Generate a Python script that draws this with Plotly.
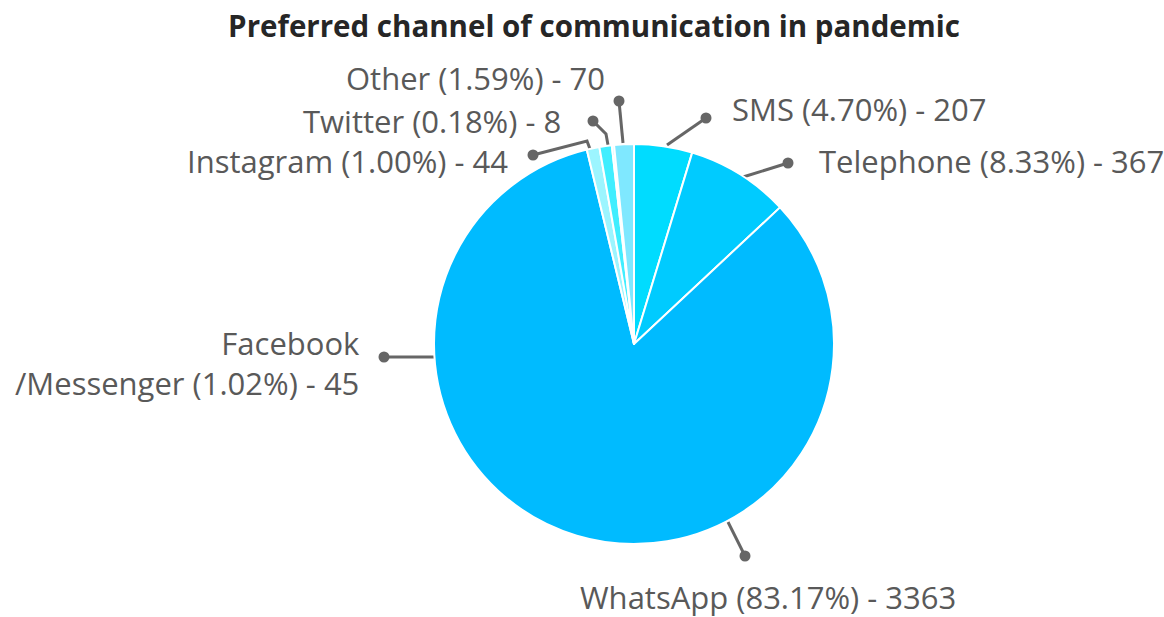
import plotly.graph_objects as go

# ---- data ----
channels = ["SMS", "Telephone", "WhatsApp", "Facebook<br>/Messenger", "Instagram", "Twitter", "Other"]
percent = [4.70, 8.33, 83.17, 1.02, 1.00, 0.18, 1.59]
counts = [207, 367, 3363, 45, 44, 8, 70]
colors = ["#00DCFF", "#00CBFF", "#00BBFF", "#9CF5FF", "#40EEFF", "#60E4FF", "#7FE8FF"]

# ---- layout (pixel positions of labels / leader lines) ----
W, H = 1164, 617
cx, cy, R = 634, 344, 200
leaders = [  # polyline points from pie edge to dot
    [(667, 145), (706, 118)],
    [(743, 177), (788, 163)],
    [(728, 522), (745, 556)],
    [(434, 357), (384, 357)],
    [(590, 149), (587, 141), (533, 155)],
    [(608, 145), (606, 134), (593, 121)],
    [(623, 143), (619, 101)],
]
label_pos = [  # x, y, xanchor
    (730, 109, "left"),
    (817, 161, "left"),
    (768, 597, "center"),
    (362, 363, "right"),
    (510, 161, "right"),
    (563, 121, "right"),
    (607, 78, "right"),
]

FONT = "Open Sans"
TXT = "#595959"
LINE = "#666666"

fig = go.Figure()
fig.add_trace(go.Pie(
    labels=channels, values=percent, sort=False, direction="clockwise", rotation=0,
    marker=dict(colors=colors, line=dict(color="white", width=2)),
    textinfo="none", hoverinfo="label+value", showlegend=False,
    domain=dict(x=[(cx - R) / W, (cx + R) / W], y=[1 - (cy + R) / H, 1 - (cy - R) / H]),
))

annotations = []
for name, p, c, pts, (lx, ly, anc) in zip(channels, percent, counts, leaders, label_pos):
    xs = [q[0] for q in pts]
    ys = [q[1] for q in pts]
    fig.add_trace(go.Scatter(x=xs, y=ys, mode="lines", line=dict(color=LINE, width=3),
                             hoverinfo="skip", showlegend=False))
    fig.add_trace(go.Scatter(x=[xs[-1]], y=[ys[-1]], mode="markers",
                             marker=dict(color=LINE, size=11), hoverinfo="skip", showlegend=False))
    annotations.append(dict(
        x=lx, y=ly, xref="x", yref="y", xanchor=anc, yanchor="middle",
        text=f"{name} ({p:.2f}%) - {c}", showarrow=False, align="right",
        font=dict(family=FONT, size=31, color=TXT),
    ))

fig.update_layout(
    width=W, height=H,
    margin=dict(l=0, r=0, t=0, b=0),
    paper_bgcolor="white", plot_bgcolor="rgba(0,0,0,0)",
    xaxis=dict(range=[0, W], visible=False, fixedrange=True, domain=[0, 1]),
    yaxis=dict(range=[H, 0], visible=False, fixedrange=True, domain=[0, 1]),
    title=dict(text="<b>Preferred channel of communication in pandemic</b>",
               x=594 / W, xanchor="center", y=1 - 27 / H, yanchor="middle",
               font=dict(family=FONT, size=29.5, color="#262626")),
    annotations=annotations,
)

fig.write_html("out.html", config={"displayModeBar": False},
               post_script="document.body.style.margin='0';")
